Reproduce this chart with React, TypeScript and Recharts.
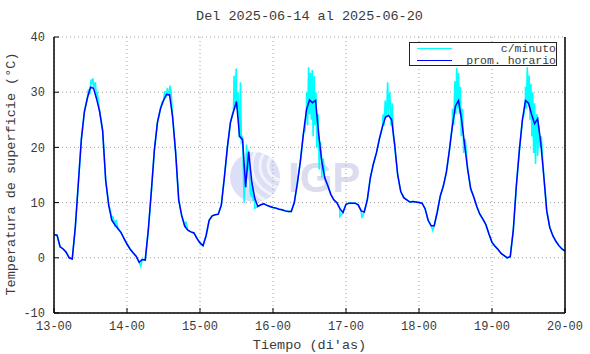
import React from 'react';
import { LineChart, Line, XAxis, YAxis, CartesianGrid, Legend } from 'recharts';

// Tiempo: horas desde 13-00 (0 .. 168)
const dayTicks = [0, 24, 48, 72, 96, 120, 144, 168];
const dayLabels = ['13-00', '14-00', '15-00', '16-00', '17-00', '18-00', '19-00', '20-00'];
const tempTicks = [-10, 0, 10, 20, 30, 40];

// Promedio horario (°C), una muestra por hora
const hourlyTemps = [
  // dia 13
  4.2, 4.1, 2.0, 1.6, 1.0, 0.0, -0.2, 5.5, 13.5, 21.5, 26.5, 29.0,
  30.9, 30.7, 28.8, 26.5, 23.0, 14.0, 9.5, 6.8, 6.0, 5.3, 4.6, 3.5,
  // dia 14
  2.5, 1.6, 0.9, 0.3, -0.8, -0.3, -0.4, 5.0, 12.0, 19.5, 24.5, 27.0,
  28.5, 29.6, 29.5, 25.5, 19.0, 10.5, 7.6, 5.7, 5.0, 4.7, 4.5, 3.5,
  // dia 15
  2.7, 2.2, 4.0, 6.8, 7.6, 7.8, 7.9, 9.5, 14.5, 20.0, 24.5, 26.5,
  28.3, 22.0, 21.4, 12.8, 19.2, 13.8, 10.8, 9.3, 9.6, 9.8, 9.5, 9.3,
  // dia 16
  9.1, 9.0, 8.8, 8.7, 8.5, 8.4, 8.4, 10.0, 13.5, 17.5, 22.5, 26.8,
  28.6, 28.1, 28.5, 22.5, 17.6, 14.5, 13.1, 11.5, 10.5, 10.0, 8.9, 8.2,
  // dia 17
  9.7, 9.9, 9.9, 9.9, 9.6, 8.5, 8.3, 10.5, 14.5, 17.0, 19.0, 21.6,
  23.8, 25.5, 25.8, 25.0, 20.5, 15.0, 12.0, 10.9, 10.5, 10.1, 10.2, 10.1,
  // dia 18
  10.0, 9.9, 8.9, 6.8, 5.8, 5.8, 8.3, 11.2, 13.0, 15.5, 19.5, 24.0,
  27.5, 28.5, 25.0, 20.5, 16.0, 12.5, 11.0, 9.3, 7.9, 7.0, 6.0, 4.3,
  // dia 19
  2.8, 2.1, 1.5, 0.8, 0.4, 0.0, 0.2, 5.0, 13.0, 19.5, 25.0, 28.5,
  28.0, 26.0, 24.3, 25.2, 21.0, 15.0, 8.5, 5.5, 4.0, 3.0, 2.2, 1.6,
  // 20-00
  1.2,
];

// Lecturas por minuto que se apartan del promedio (hora, °C)
const minuteExtremes: [number, number][] = [
  [11.3, 30.5], [11.7, 29.6], [12.2, 32.3], [12.5, 31.5], [12.8, 32.5], [13.2, 31.2], [13.6, 31.8], [14.2, 30.0],
  [18.6, 8.4], [19.3, 7.6], [20.4, 6.8],
  [28.5, -1.5],
  [35.5, 28.2], [36.4, 30.2], [36.8, 29.0], [37.3, 30.8], [37.7, 29.5], [38.1, 31.2], [38.5, 30.0],
  [42.5, 6.8], [43.3, 6.6],
  [58.6, 26.0], [59.2, 33.0], [59.5, 27.0], [59.9, 34.3], [60.2, 27.0], [60.5, 30.0], [60.9, 22.0], [61.3, 31.8],
  [61.6, 21.0], [62.0, 22.0], [62.5, 10.0], [62.8, 14.0], [63.3, 20.5], [63.7, 16.0], [64.0, 19.5], [64.5, 12.0],
  [64.9, 11.0], [65.5, 10.5], [66.0, 9.0],
  [82.5, 23.0], [83.1, 30.0], [83.4, 24.0], [83.7, 34.5], [84.0, 26.0], [84.3, 33.5], [84.6, 25.0], [84.9, 34.0],
  [85.2, 22.0], [85.5, 33.0], [85.8, 24.0], [86.1, 30.0], [86.4, 20.0], [86.8, 26.0], [87.2, 16.0], [87.6, 21.0],
  [88.0, 14.5], [88.5, 18.0], [94.0, 7.5],
  [101.2, 7.2],
  [107.5, 22.5], [108.2, 26.0], [108.5, 24.0], [108.9, 28.5], [109.3, 25.5], [109.7, 31.8], [110.0, 27.0],
  [110.4, 30.0], [110.8, 24.0], [111.2, 28.0], [111.6, 22.0], [112.0, 20.0], [112.5, 17.5],
  [124.5, 5.0],
  [130.5, 22.0], [131.0, 27.0], [131.4, 24.0], [131.8, 32.0], [132.1, 26.0], [132.4, 34.4], [132.7, 27.0],
  [133.0, 33.5], [133.3, 26.0], [133.6, 31.0], [133.9, 22.0], [134.3, 27.0], [134.7, 19.0], [135.2, 21.5],
  [154.5, 26.0], [155.0, 31.0], [155.3, 27.0], [155.6, 34.5], [155.9, 28.0], [156.2, 33.0], [156.5, 25.0],
  [156.8, 31.5], [157.1, 22.0], [157.4, 30.0], [157.7, 19.0], [158.0, 28.0], [158.3, 17.0], [158.7, 26.0],
  [159.0, 18.5], [159.4, 24.0], [159.8, 20.0], [160.2, 22.0],
];

const hourlyData = hourlyTemps.map((v, i) => ({ t: i, v }));
const minuteData = [...hourlyData, ...minuteExtremes.map(([t, v]) => ({ t, v }))].sort((a, b) => a.t - b.t);

const FONT = '"Liberation Mono", "DejaVu Sans Mono", monospace';
const TEXT = '#3a3a3a';
const tickStyle = { fontFamily: FONT, fontSize: 12, fill: TEXT };
const frame = { stroke: '#000', strokeWidth: 1.5 };

const Watermark = () => (
  <svg width={160} height={80} style={{ position: 'absolute', left: 220, top: 138 }}>
    <defs>
      <clipPath id="globe">
        <circle cx={35} cy={39} r={25} />
      </clipPath>
    </defs>
    <circle cx={35} cy={39} r={25} fill="#dcdff5" />
    <g clipPath="url(#globe)" fill="none" stroke="#f2f4fd" strokeWidth={3}>
      <circle cx={62} cy={28} r={14} />
      <circle cx={62} cy={28} r={22} />
      <circle cx={62} cy={28} r={30} />
      <circle cx={62} cy={28} r={38} />
    </g>
    <text x={68} y={54} fontFamily='"Liberation Sans", Arial, sans-serif' fontWeight="bold" fontSize={42} fill="#dcdcf1">
      IGP
    </text>
  </svg>
);

const legendItems = [
  { name: 'c/minuto', color: '#00ffff' },
  { name: 'prom. horario', color: '#0000ff' },
];

const LegendBox = () => (
  <div
    style={{
      width: 148,
      height: 24,
      boxSizing: 'border-box',
      border: '1px solid #222',
      background: '#fff',
      fontFamily: FONT,
      fontSize: 11.5,
      color: TEXT,
      position: 'relative',
    }}
  >
    {legendItems.map((item, i) => (
      <div key={item.name} style={{ position: 'absolute', left: 0, top: i * 12, width: 146, height: 11 }}>
        <div style={{ position: 'absolute', left: 7, top: 5, width: 35, height: 1.2, background: item.color }} />
        <div style={{ position: 'absolute', right: 0, top: 0, height: 11, lineHeight: '11px', whiteSpace: 'nowrap' }}>
          {item.name}
        </div>
      </div>
    ))}
  </div>
);

export default function App() {
  return (
    <div style={{ position: 'absolute', left: 0, top: 0, width: 590, height: 354, background: '#fff', overflow: 'hidden' }}>
      <Watermark />
      <div style={{ position: 'absolute', left: 0, top: 0 }}>
        <LineChart width={590} height={354} margin={{ top: 37, right: 0, bottom: 0, left: 0 }}>
          <CartesianGrid stroke="#a0a0a0" strokeDasharray="1 3" />
          <XAxis
            dataKey="t"
            type="number"
            domain={[0, 168]}
            ticks={dayTicks}
            interval={0}
            tickFormatter={(v: number) => dayLabels[dayTicks.indexOf(v)]}
            height={41}
            tickSize={-5}
            tickMargin={13}
            axisLine={frame}
            tickLine={{ stroke: '#000' }}
            tick={tickStyle}
          />
          <XAxis
            xAxisId="top"
            orientation="top"
            dataKey="t"
            type="number"
            domain={[0, 168]}
            ticks={dayTicks}
            interval={0}
            height={0}
            tickSize={-5}
            axisLine={frame}
            tickLine={{ stroke: '#000' }}
            tick={false}
          />
          <YAxis
            type="number"
            domain={[-10, 40]}
            ticks={tempTicks}
            interval={0}
            width={54}
            tickSize={-5}
            tickMargin={14}
            axisLine={frame}
            tickLine={{ stroke: '#000' }}
            tick={tickStyle}
          />
          <YAxis
            yAxisId="r"
            orientation="right"
            type="number"
            domain={[-10, 40]}
            ticks={tempTicks}
            interval={0}
            width={25}
            tickSize={-5}
            axisLine={frame}
            tickLine={{ stroke: '#000' }}
            tick={false}
          />
          <Line
            data={minuteData}
            dataKey="v"
            name="c/minuto"
            type="linear"
            stroke="#00ffff"
            strokeWidth={1.6}
            dot={false}
            isAnimationActive={false}
          />
          <Line
            data={hourlyData}
            dataKey="v"
            name="prom. horario"
            type="linear"
            stroke="#0000ff"
            strokeWidth={1.5}
            dot={false}
            isAnimationActive={false}
          />
          <Legend
            layout="horizontal"
            verticalAlign="middle"
            align="center"
            wrapperStyle={{ position: 'absolute', left: 409, top: 42, width: 148, height: 24 }}
            content={() => <LegendBox />}
          />
        </LineChart>
      </div>
      <div
        style={{
          position: 'absolute',
          left: 54,
          width: 511,
          top: 9,
          height: 16,
          lineHeight: '16px',
          textAlign: 'center',
          fontFamily: FONT,
          fontSize: 13.5,
          color: TEXT,
          whiteSpace: 'nowrap',
        }}
      >
        Del 2025-06-14 al 2025-06-20
      </div>
      <div
        style={{
          position: 'absolute',
          left: 54,
          width: 511,
          top: 338,
          height: 16,
          lineHeight: '16px',
          textAlign: 'center',
          fontFamily: FONT,
          fontSize: 13.5,
          color: TEXT,
          whiteSpace: 'nowrap',
        }}
      >
        Tiempo (di'as)
      </div>
      <div
        style={{
          position: 'absolute',
          left: 12,
          top: 174,
          transform: 'translate(-50%, -50%) rotate(-90deg)',
          lineHeight: '16px',
          fontFamily: FONT,
          fontSize: 13.5,
          color: TEXT,
          whiteSpace: 'nowrap',
        }}
      >
        Temperatura de superficie (°C)
      </div>
    </div>
  );
}
